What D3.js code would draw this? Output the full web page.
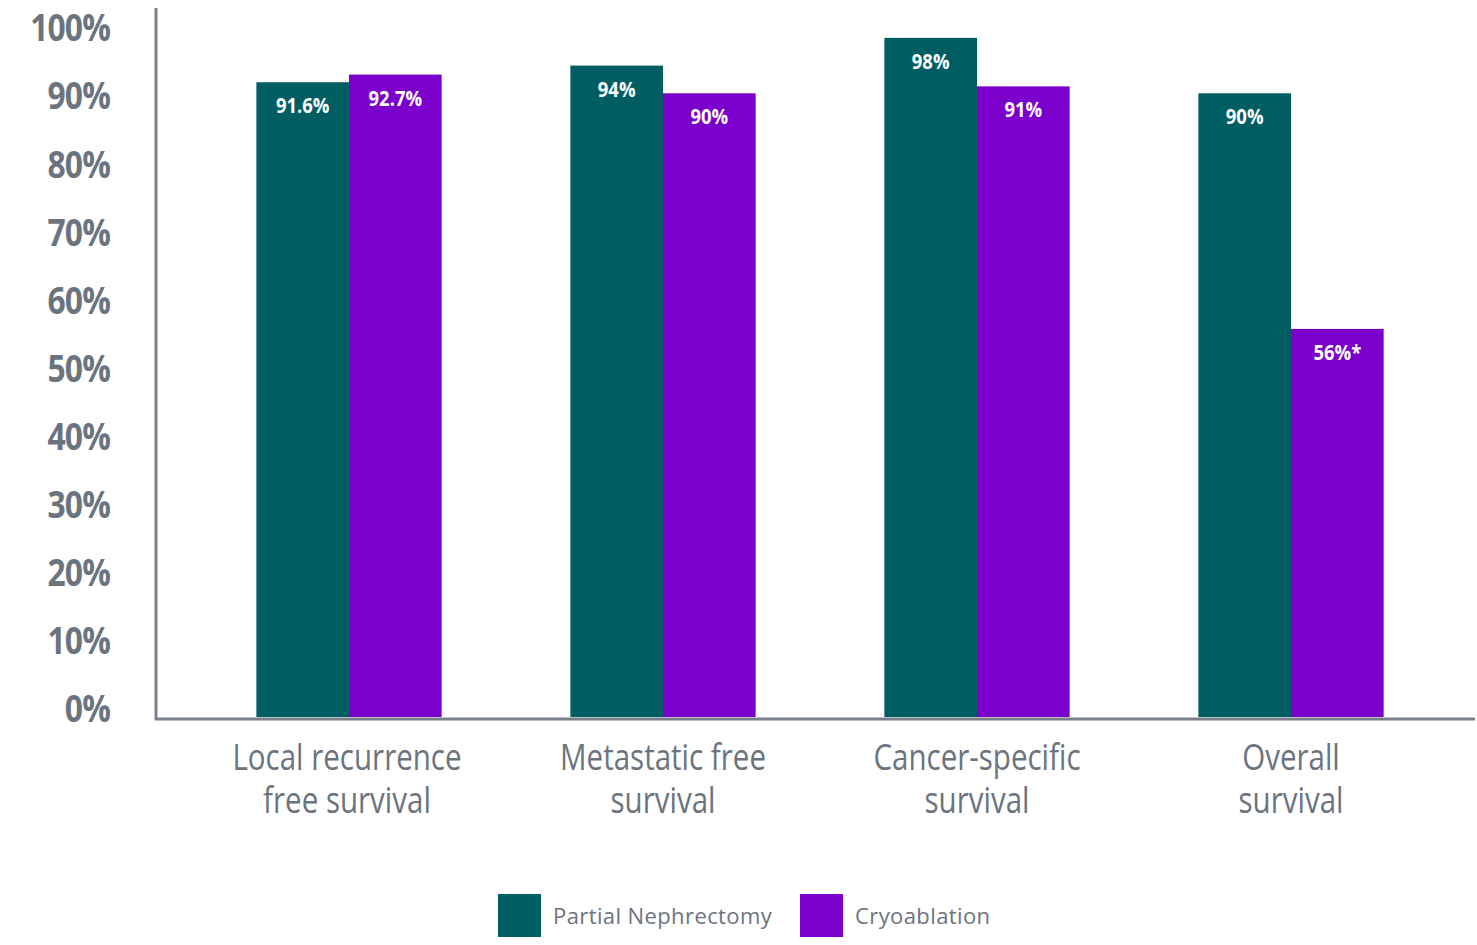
<!DOCTYPE html>
<html>
<head>
<meta charset="utf-8">
<script src="https://cdn.jsdelivr.net/npm/d3@7"></script>
<style>
  body { margin: 0; background: #fff; }
  .cond { font-family: "Open Sans", "Noto Sans", sans-serif; }
</style>
</head>
<body>
<div class="wrapper"></div>
<script>
// data
var categories = [["Local recurrence", "free survival"], ["Metastatic free", "survival"], ["Cancer-specific", "survival"], ["Overall", "survival"]];
var series_names = ["Partial Nephrectomy", "Cryoablation"];
var partial_values = [91.6, 94, 98, 90];
var cryo_values = [92.7, 90, 91, 56];
var value_labels = [["91.6%", "94%", "98%", "90%"], ["92.7%", "90%", "91%", "56%*"]];
var y_ticks = [0, 10, 20, 30, 40, 50, 60, 70, 80, 90, 100];

var width = 1477, height = 945;
var colors = ["#005e63", "#7b00cc"];
var gray = "#6b747e";

var svg = d3.select(".wrapper").append("svg")
  .attr("width", width)
  .attr("height", height);

var y = d3.scaleLinear().domain([0, 100]).range([717, 24]);
// tick labels sit on a slightly tighter spacing than the bars
var y_lab = d3.scaleLinear().domain([0, 100]).range([709, 28]);

var cat_ids = categories.map((d, i) => i);
var x = d3.scaleBand().domain(cat_ids).range([192, 1448])
  .paddingInner(0.41).paddingOuter(0.205);
var x_sub = d3.scaleBand().domain([0, 1]).range([0, x.bandwidth()]);

// no condensed font around, so squeeze the glyphs horizontally
function squeeze(px, py, k) {
  return "translate(" + px + "," + py + ") scale(" + k + ",1)";
}

// tick labels
svg.append("g").selectAll("text")
  .data(y_ticks)
  .enter()
  .append("text")
  .attr("class", "cond")
  .attr("transform", (d) => squeeze(110, y_lab(d), 0.86))
  .attr("dy", "0.36em")
  .attr("text-anchor", "end")
  .style("font-size", "37px")
  .style("font-weight", "bold")
  .style("fill", gray)
  .style("letter-spacing", "-1px")
  .text((d) => d + "%");

// bars
var all_values = [partial_values, cryo_values];
var groups = svg.append("g").selectAll("g")
  .data(cat_ids)
  .enter()
  .append("g")
  .attr("transform", (d) => "translate(" + x(d) + ",0)");

var bar_data = (d) => [0, 1].map((s) => ({ s: s, v: all_values[s][d], label: value_labels[s][d] }));

groups.selectAll("rect")
  .data(bar_data)
  .enter()
  .append("rect")
  .attr("x", (d) => x_sub(d.s))
  .attr("y", (d) => y(d.v))
  .attr("width", x_sub.bandwidth())
  .attr("height", (d) => y(0) - y(d.v))
  .attr("fill", (d) => colors[d.s]);

groups.selectAll("text.val")
  .data(bar_data)
  .enter()
  .append("text")
  .attr("class", "val cond")
  .attr("transform", (d) => squeeze(x_sub(d.s) + x_sub.bandwidth() / 2, y(d.v) + 31, 0.84))
  .attr("text-anchor", "middle")
  .style("font-size", "22px")
  .style("font-weight", "bold")
  .style("fill", "#fff")
  .text((d) => d.label);

// axes lines
svg.append("line")
  .attr("x1", 156).attr("x2", 156)
  .attr("y1", 8).attr("y2", 720)
  .attr("stroke", "#7a8089").attr("stroke-width", 3);
svg.append("line")
  .attr("x1", 155).attr("x2", 1475)
  .attr("y1", 719).attr("y2", 719)
  .attr("stroke", "#7a8089").attr("stroke-width", 3);

// category labels
var cat_labels = svg.append("g").selectAll("text")
  .data(cat_ids)
  .enter()
  .append("text")
  .attr("class", "cond")
  .attr("transform", (d) => squeeze(x(d) + x.bandwidth() / 2 - (d == 0 ? 2 : 0), 770, 0.82))
  .attr("text-anchor", "middle")
  .style("font-size", "36px")
  .style("fill", gray);

cat_labels.selectAll("tspan")
  .data((d) => categories[d])
  .enter()
  .append("tspan")
  .attr("x", 0)
  .attr("y", (d, i) => i * 43)
  .text((d) => d);

// legend
var legend_x = [498, 800];
var legend = svg.append("g").selectAll("g")
  .data(series_names)
  .enter()
  .append("g")
  .attr("transform", (d, i) => "translate(" + legend_x[i] + ",894)");

legend.append("rect")
  .attr("width", 43)
  .attr("height", 43)
  .attr("fill", (d, i) => colors[i]);

legend.append("text")
  .attr("x", 55)
  .attr("y", 22)
  .attr("dy", "0.35em")
  .style("font-family", "'Open Sans', sans-serif")
  .style("font-size", "22px")
  .style("fill", gray)
  .style("letter-spacing", "0.4px")
  .text((d) => d);
</script>
</body>
</html>
